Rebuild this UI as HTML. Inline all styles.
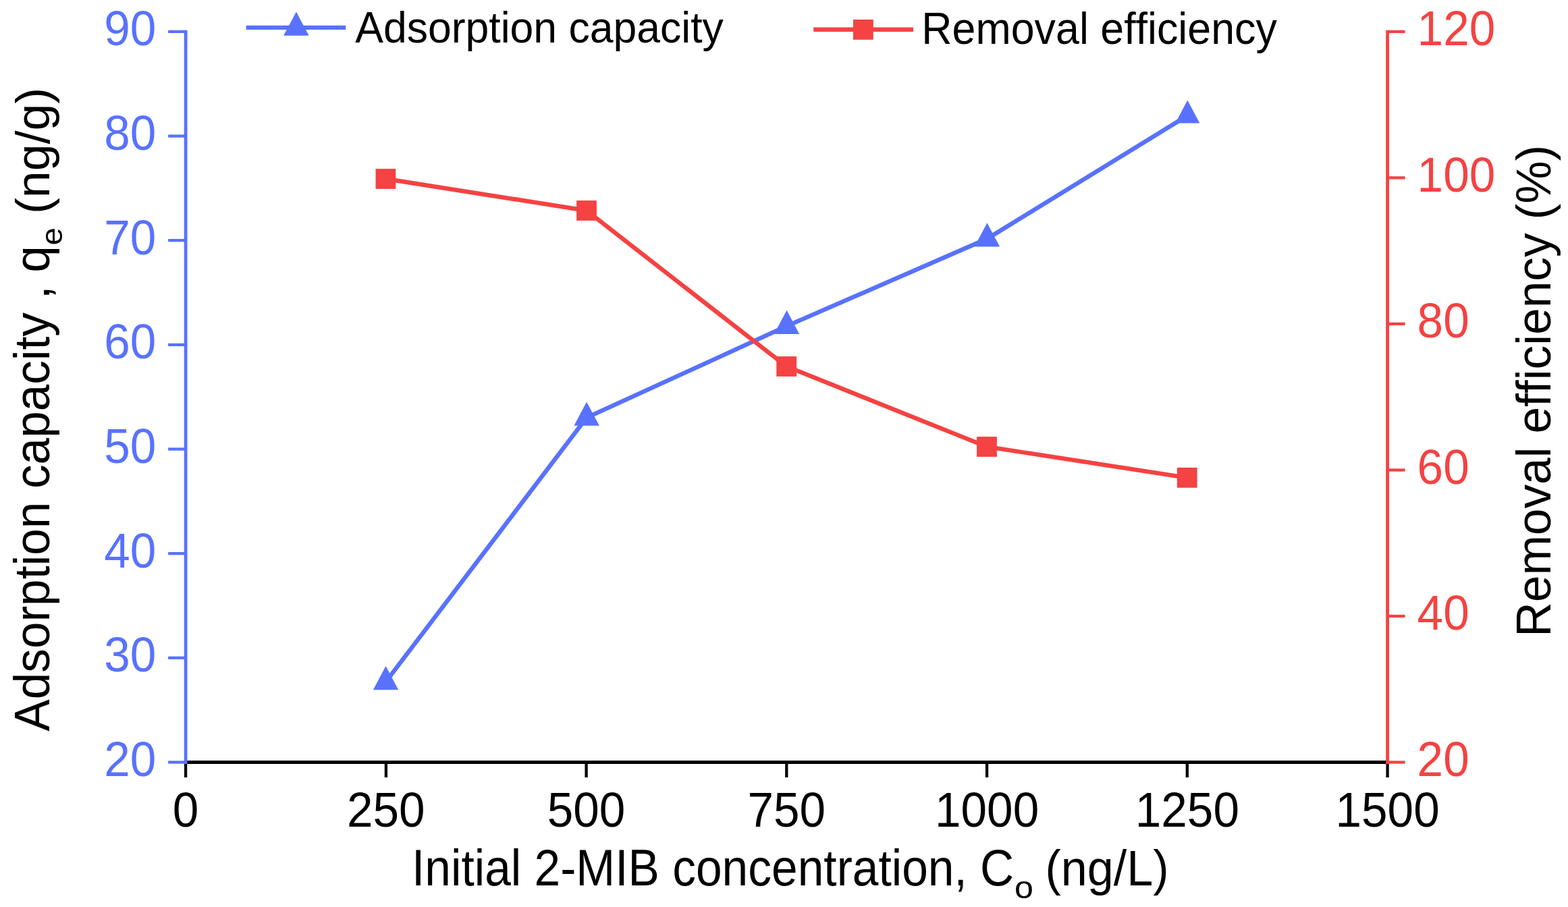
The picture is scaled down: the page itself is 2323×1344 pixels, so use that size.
<!DOCTYPE html>
<html><head><meta charset="utf-8"><title>Adsorption capacity and removal efficiency</title>
<style>
html,body{margin:0;padding:0;background:#fff;overflow:hidden;}
svg{display:block;}
svg text{font-family:"Liberation Sans", Arial, sans-serif;font-kerning:none;}
</style></head>
<body>
<svg width="2323" height="1344" viewBox="0 0 2323 1344">
<rect x="0" y="0" width="2323" height="1344" fill="#fff"/>
<g stroke="#000" fill="none">
<line x1="272.70000000000005" y1="1129.5" x2="2058.0" y2="1129.5" stroke-width="4.8"/>
<line x1="275.1" y1="1129.5" x2="275.1" y2="1152.0" stroke-width="4.3"/>
<line x1="571.9" y1="1129.5" x2="571.9" y2="1152.0" stroke-width="4.3"/>
<line x1="868.6" y1="1129.5" x2="868.6" y2="1152.0" stroke-width="4.3"/>
<line x1="1165.3" y1="1129.5" x2="1165.3" y2="1152.0" stroke-width="4.3"/>
<line x1="1462.1" y1="1129.5" x2="1462.1" y2="1152.0" stroke-width="4.3"/>
<line x1="1758.8" y1="1129.5" x2="1758.8" y2="1152.0" stroke-width="4.3"/>
<line x1="2055.6" y1="1129.5" x2="2055.6" y2="1152.0" stroke-width="4.3"/>
</g>
<g stroke="#5872FF" fill="none">
<line x1="275.1" y1="44.75" x2="275.1" y2="1131.9" stroke-width="4.8"/>
<line x1="249.1" y1="1129.5" x2="275.1" y2="1129.5" stroke-width="4.3"/>
<line x1="249.1" y1="974.8" x2="275.1" y2="974.8" stroke-width="4.3"/>
<line x1="249.1" y1="820.2" x2="275.1" y2="820.2" stroke-width="4.3"/>
<line x1="249.1" y1="665.5" x2="275.1" y2="665.5" stroke-width="4.3"/>
<line x1="249.1" y1="510.9" x2="275.1" y2="510.9" stroke-width="4.3"/>
<line x1="249.1" y1="356.2" x2="275.1" y2="356.2" stroke-width="4.3"/>
<line x1="249.1" y1="201.6" x2="275.1" y2="201.6" stroke-width="4.3"/>
<line x1="249.1" y1="46.9" x2="275.1" y2="46.9" stroke-width="4.3"/>
</g>
<g stroke="#F54242" fill="none">
<line x1="2055.6" y1="44.75" x2="2055.6" y2="1131.9" stroke-width="4.8"/>
<line x1="2055.6" y1="1129.5" x2="2081.6" y2="1129.5" stroke-width="4.3"/>
<line x1="2055.6" y1="913.0" x2="2081.6" y2="913.0" stroke-width="4.3"/>
<line x1="2055.6" y1="696.5" x2="2081.6" y2="696.5" stroke-width="4.3"/>
<line x1="2055.6" y1="479.9" x2="2081.6" y2="479.9" stroke-width="4.3"/>
<line x1="2055.6" y1="263.4" x2="2081.6" y2="263.4" stroke-width="4.3"/>
<line x1="2055.6" y1="46.9" x2="2081.6" y2="46.9" stroke-width="4.3"/>
</g>
<g>
<text font-size="70" fill="#5872FF" text-anchor="end" transform="translate(231.20,1149.90) scale(0.99,1.025)">20</text>
<text font-size="70" fill="#5872FF" text-anchor="end" transform="translate(231.20,995.24) scale(0.99,1.025)">30</text>
<text font-size="70" fill="#5872FF" text-anchor="end" transform="translate(231.20,840.59) scale(0.99,1.025)">40</text>
<text font-size="70" fill="#5872FF" text-anchor="end" transform="translate(231.20,685.93) scale(0.99,1.025)">50</text>
<text font-size="70" fill="#5872FF" text-anchor="end" transform="translate(231.20,531.27) scale(0.99,1.025)">60</text>
<text font-size="70" fill="#5872FF" text-anchor="end" transform="translate(231.20,376.61) scale(0.99,1.025)">70</text>
<text font-size="70" fill="#5872FF" text-anchor="end" transform="translate(231.20,221.96) scale(0.99,1.025)">80</text>
<text font-size="70" fill="#5872FF" text-anchor="end" transform="translate(231.20,67.30) scale(0.99,1.025)">90</text>
<text font-size="70" fill="#F54242" text-anchor="start" transform="translate(2099.60,1149.90) scale(0.99,1.025)">20</text>
<text font-size="70" fill="#F54242" text-anchor="start" transform="translate(2099.60,933.38) scale(0.99,1.025)">40</text>
<text font-size="70" fill="#F54242" text-anchor="start" transform="translate(2099.60,716.86) scale(0.99,1.025)">60</text>
<text font-size="70" fill="#F54242" text-anchor="start" transform="translate(2099.60,500.34) scale(0.99,1.025)">80</text>
<text font-size="70" fill="#F54242" text-anchor="start" transform="translate(2099.60,283.82) scale(0.99,1.025)">100</text>
<text font-size="70" fill="#F54242" text-anchor="start" transform="translate(2099.60,67.30) scale(0.99,1.025)">120</text>
<text font-size="70" fill="#000" text-anchor="middle" transform="translate(275.10,1224.80) scale(0.99,1.025)">0</text>
<text font-size="70" fill="#000" text-anchor="middle" transform="translate(571.85,1224.80) scale(0.99,1.025)">250</text>
<text font-size="70" fill="#000" text-anchor="middle" transform="translate(868.60,1224.80) scale(0.99,1.025)">500</text>
<text font-size="70" fill="#000" text-anchor="middle" transform="translate(1165.35,1224.80) scale(0.99,1.025)">750</text>
<text font-size="70" fill="#000" text-anchor="middle" transform="translate(1462.10,1224.80) scale(0.99,1.025)">1000</text>
<text font-size="70" fill="#000" text-anchor="middle" transform="translate(1758.85,1224.80) scale(0.99,1.025)">1250</text>
<text font-size="70" fill="#000" text-anchor="middle" transform="translate(2055.60,1224.80) scale(0.99,1.025)">1500</text>
</g>
<text font-size="72" fill="#000" transform="translate(609.98,1312.00) scale(0.9656,1.0477)">Initial 2-MIB concentration, C</text>
<text font-size="47" fill="#000" transform="translate(1502.89,1330.60) scale(1.0680,1.0000)">o</text>
<text font-size="72" fill="#000" transform="translate(1548.45,1312.00) scale(0.9740,1.0200)">(ng/L)</text>
<text font-size="71" fill="#000" transform="translate(73.30,1083.64) rotate(-90) scale(1.0018,1.0441)">Adsorption capacity , q</text>
<text font-size="44" fill="#000" transform="translate(92.00,363.61) rotate(-90) scale(1.0752,1.0000)">e</text>
<text font-size="71" fill="#000" transform="translate(73.30,317.05) rotate(-90) scale(1.0098,1.0000)">(ng/g)</text>
<text font-size="71" fill="#000" transform="translate(2296.70,943.75) rotate(-90) scale(1.0044,1.0297)">Removal efficiency (%)</text>
<polyline points="571.5,1010.4 869.1,618.9 1165.6,483.2 1462.4,353.8 1759.3,171.3" fill="none" stroke="#5872FF" stroke-width="6.4" stroke-linejoin="miter"/>
<path d="M571.5,986.9 L590.2,1022.2 L552.8,1022.2 Z" fill="#5872FF"/>
<path d="M869.1,595.4 L887.9,630.7 L850.4,630.7 Z" fill="#5872FF"/>
<path d="M1165.6,459.7 L1184.3,495.0 L1146.8,495.0 Z" fill="#5872FF"/>
<path d="M1462.4,330.3 L1481.2,365.6 L1443.7,365.6 Z" fill="#5872FF"/>
<path d="M1759.3,148.6 L1777.3,182.6 L1741.3,182.6 Z" fill="#5872FF"/>
<polyline points="571.4,265.0 869.0,312.0 1165.2,543.0 1462.0,662.0 1758.7,707.8" fill="none" stroke="#F54242" stroke-width="6.4" stroke-linejoin="miter"/>
<rect x="556.5" y="250.1" width="29.8" height="29.8" fill="#F54242"/>
<rect x="854.1" y="297.1" width="29.8" height="29.8" fill="#F54242"/>
<rect x="1150.3" y="528.1" width="29.8" height="29.8" fill="#F54242"/>
<rect x="1447.1" y="647.1" width="29.8" height="29.8" fill="#F54242"/>
<rect x="1743.8" y="692.9" width="29.8" height="29.8" fill="#F54242"/>
<line x1="364.6" y1="40.9" x2="512.3" y2="40.9" stroke="#5872FF" stroke-width="6.4"/>
<path d="M438.9,17.4 L457.6,52.7 L420.1,52.7 Z" fill="#5872FF"/>
<text font-size="64" fill="#000" transform="translate(526.18,62.60) scale(0.9773,1.0200)">Adsorption capacity</text>
<line x1="1205.2" y1="43.8" x2="1353" y2="43.8" stroke="#F54242" stroke-width="6.4"/>
<rect x="1264.0" y="29.0" width="29.8" height="29.8" fill="#F54242"/>
<text font-size="64" fill="#000" transform="translate(1365.25,64.60) scale(0.9806,1.0400)">Removal efficiency</text>
</svg>
</body></html>
